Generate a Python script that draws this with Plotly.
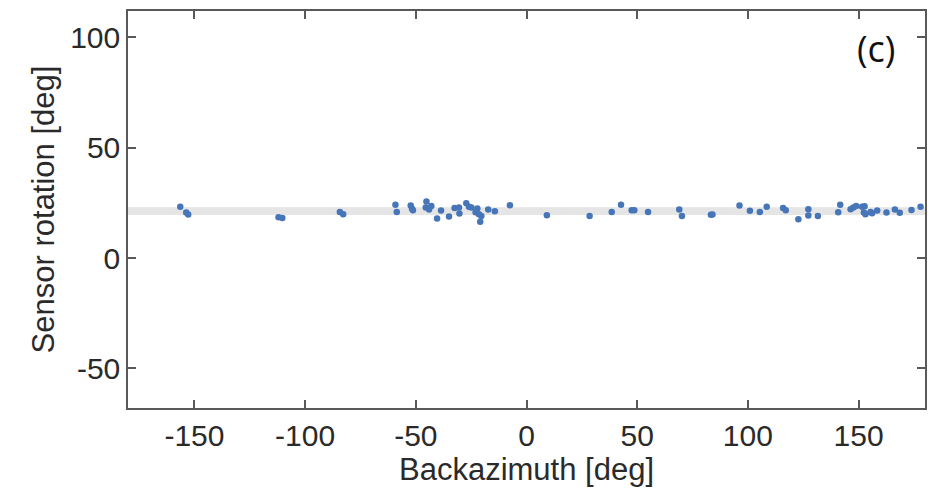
import plotly.graph_objects as go

backazimuth = [-156.4, -153.7, -152.8, -112.0, -110.3, -84.3, -82.8, -59.2, -58.6,
               -52.3, -51.7, -51.3, -45.2, -45.5, -43.0, -44.0, -40.4, -38.6, -35.0,
               -32.5, -30.5, -30.3, -27.2, -26.0, -24.9, -22.2, -23.0, -21.5, -20.4,
               -20.9, -17.3, -14.3, -7.5,
               9.2, 28.5, 38.5, 42.7, 47.5, 48.7, 54.9, 69.0, 70.2, 83.3, 84.0, 96.2,
               100.9, 105.4, 108.5, 115.9, 117.1, 122.8, 127.3, 127.3, 131.6, 140.8,
               141.7, 146.4, 147.6, 148.9, 151.6, 152.7, 152.4, 153.1, 155.4, 156.1,
               158.4, 162.6, 166.4, 168.6, 173.9, 178.0]
rotation = [23.3, 20.6, 19.7, 18.5, 18.2, 20.9, 19.9, 24.2, 20.9,
            23.8, 22.3, 21.7, 25.6, 22.9, 23.6, 22.0, 17.9, 21.5, 18.8,
            22.7, 22.9, 20.2, 24.8, 23.2, 22.9, 22.4, 20.8, 19.9, 19.0,
            16.5, 22.0, 21.2, 23.9,
            19.4, 19.0, 20.9, 24.1, 21.7, 21.7, 20.9, 22.0, 19.0, 19.6, 19.7, 23.8,
            21.4, 20.9, 23.2, 22.7, 21.7, 17.6, 22.1, 19.3, 19.1, 20.8,
            24.2, 22.1, 22.9, 23.6, 23.2, 23.5, 20.6, 19.9, 20.9, 20.3,
            21.5, 20.6, 22.0, 20.5, 21.8, 23.3]

band_low = 19.5
band_high = 23.0

x_ticks = [-150, -100, -50, 0, 50, 100, 150]
x_tick_labels = ["-150", "-100", "-50", "0", "50", "100", "150"]
y_ticks = [-50, 0, 50, 100]
y_tick_labels = ["-50", "0", "50", "100"]

fig = go.Figure()
fig.add_trace(go.Scatter(
    x=backazimuth, y=rotation, mode="markers",
    marker=dict(size=6.5, color="#4675b8", line=dict(width=0)),
    showlegend=False,
))

fig.add_shape(type="rect", xref="paper", yref="y", x0=0, x1=1,
              y0=band_low, y1=band_high, fillcolor="#e5e5e5",
              line=dict(width=0), layer="below")

fig.add_annotation(text="(c)", xref="paper", yref="paper", x=0.939, y=0.905,
                   showarrow=False, xanchor="center", yanchor="middle",
                   font=dict(family="Open Sans", size=36, color="#111111"))

axis_common = dict(
    showline=True, linecolor="#595959", linewidth=1.5, mirror="ticks",
    ticks="inside", ticklen=8, tickwidth=1.5, tickcolor="#595959",
    showgrid=False, zeroline=False,
    tickfont=dict(family="Liberation Sans, Arial", size=30, color="#2a2a2a"),
    title_font=dict(family="Liberation Sans, Arial", size=31, color="#2a2a2a"),
)

fig.update_xaxes(range=[-180, 180], tickvals=x_ticks, ticktext=x_tick_labels,
                 title_text="Backazimuth [deg]", title_standoff=6, **axis_common)
fig.update_yaxes(range=[-68, 112], tickvals=y_ticks, ticktext=y_tick_labels,
                 title_text="Sensor rotation [deg]", title_standoff=6, **axis_common)

fig.update_layout(
    width=936, height=491,
    margin=dict(l=128, r=9, t=10, b=83),
    plot_bgcolor="white", paper_bgcolor="white",
)

fig.write_html("out.html")
